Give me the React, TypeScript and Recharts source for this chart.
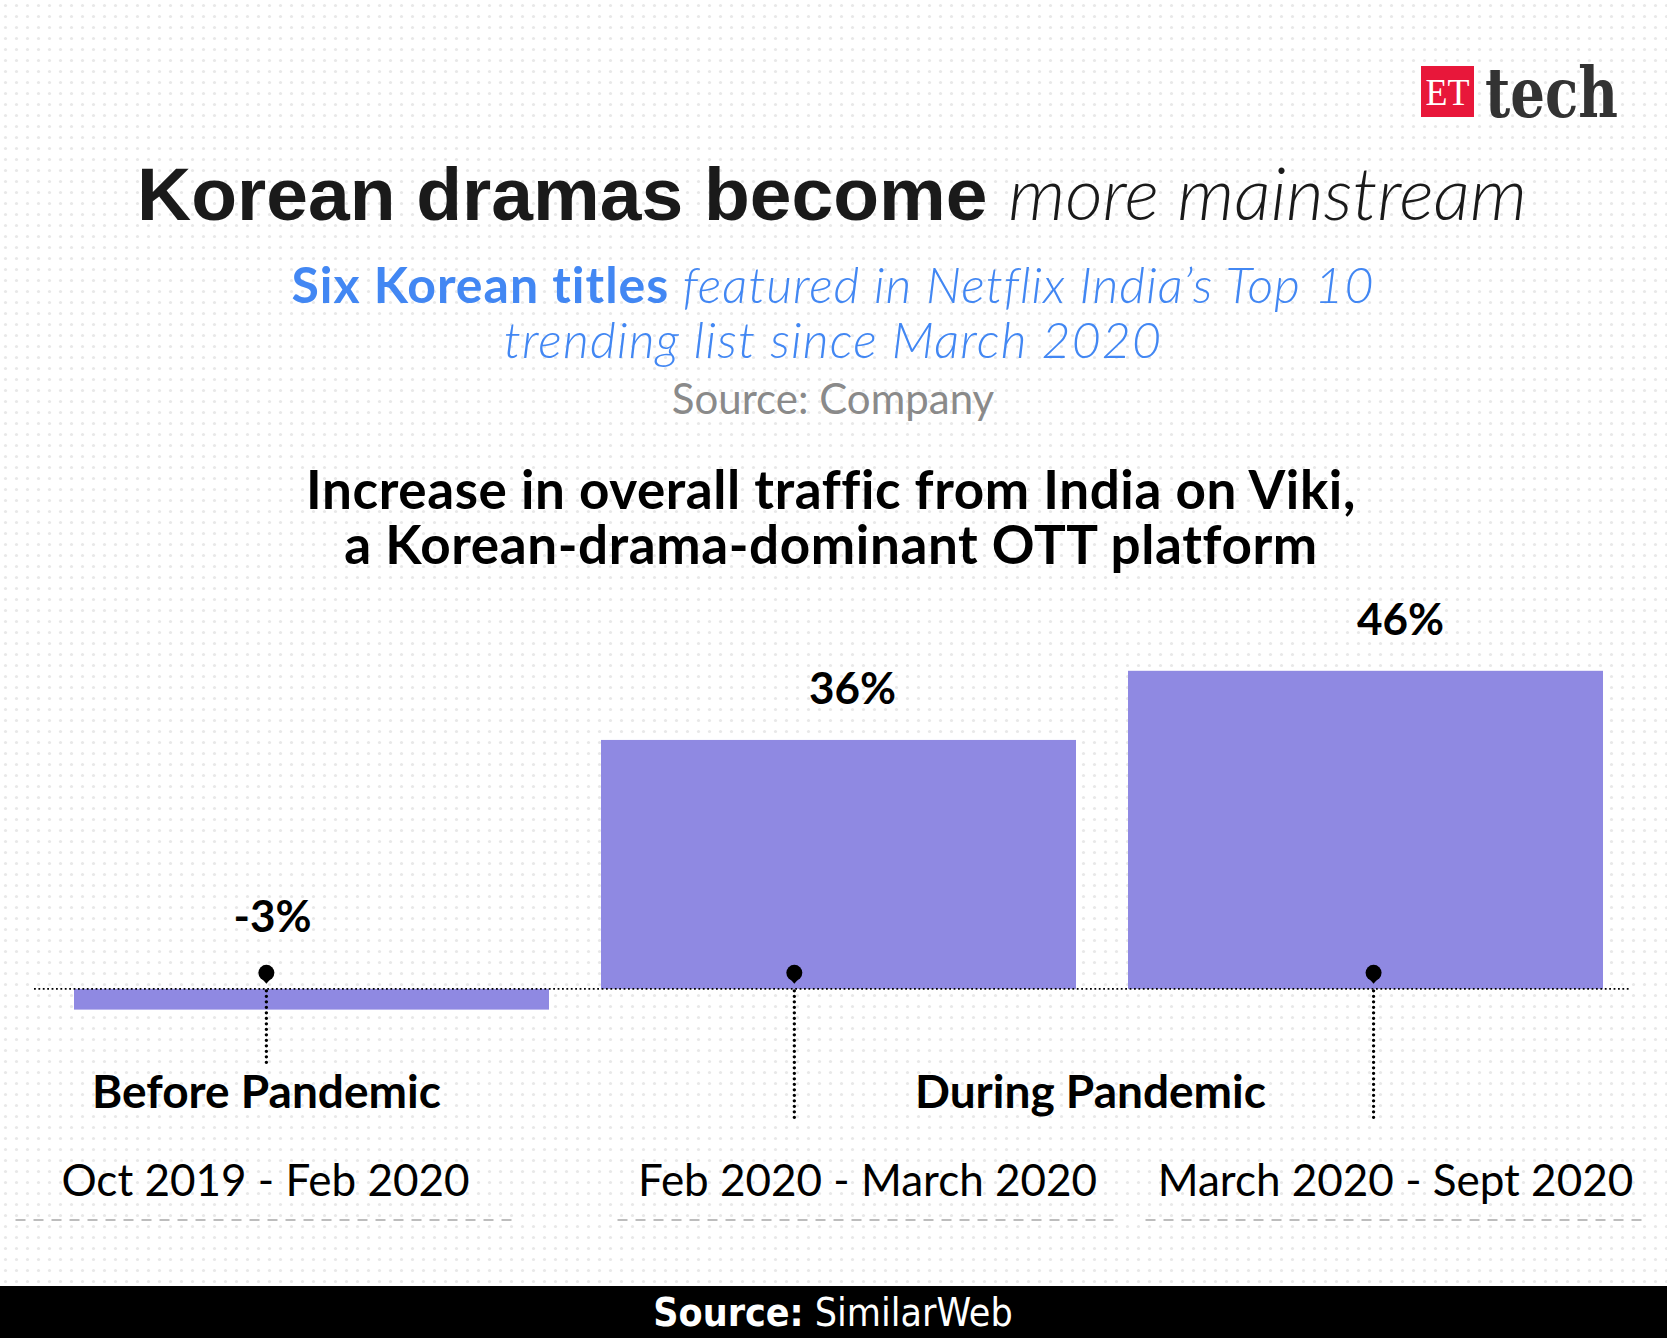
import React from 'react';
import { BarChart, Bar, XAxis, YAxis, ReferenceLine, LabelList } from 'recharts';

const PERIODS = ['Oct 2019 - Feb 2020', 'Feb 2020 - March 2020', 'March 2020 - Sept 2020'];
const TRAFFIC_CHANGE = [-3, 36, 46];
const PHASE_LABELS = ['Before Pandemic', 'During Pandemic'];

const chartData = PERIODS.map((period, i) => ({ period, change: TRAFFIC_CHANGE[i] }));

// small layout tweaks to follow the original artwork
const LABEL_DX = [-39, 14, 35];
const TICK_DX = [-46, 29, 30];
const MARKER_FRAC = [0.405, 0.407, 0.517];
const STEM_LEN = [74, 132, 132];
const PHASE_DX = [-45, 252];

const BAR_COLOR = '#8f89e2';
const SANS = 'Lato, "Open Sans", sans-serif';

function BarWithMarker(props: any) {
  const { x, y, width, height, index, value } = props;
  const top = Math.min(y, y + height);
  const h = Math.abs(height);
  const zeroY = value >= 0 ? top + h : top;
  const mx = x + width * MARKER_FRAC[index];
  const cy = zeroY - 16;
  return (
    <g>
      <rect x={x} y={top} width={width} height={h} fill={BAR_COLOR} />
      <line x1={mx} x2={mx} y1={zeroY + 2} y2={zeroY + STEM_LEN[index]} stroke="#000" strokeWidth={3.4} strokeDasharray="0 5.5" strokeLinecap="round" />
      <path d={`M${mx - 6} ${cy + 4} L${mx} ${cy + 11} L${mx + 6} ${cy + 4} Z`} fill="#000" />
      <circle cx={mx} cy={cy} r={8} fill="#000" />
    </g>
  );
}

function ValueLabel(props: any) {
  const { x, y, width, height, value, index } = props;
  const top = Math.min(y, y + height);
  const by = value >= 0 ? top - 36 : top - 57;
  return (
    <text x={x + width / 2 + LABEL_DX[index]} y={by} textAnchor="middle" fontFamily={SANS} fontWeight={700} fontSize={44} fill="#000">
      {value}%
    </text>
  );
}

function PeriodTick(props: any) {
  const { x, y, payload, index } = props;
  const cx = x + TICK_DX[index];
  return (
    <g>
      {index < PHASE_LABELS.length && (
        <text x={x + PHASE_DX[index]} y={y + 50} textAnchor="middle" fontFamily={SANS} fontWeight={700} fontSize={46} fill="#000">
          {PHASE_LABELS[index]}
        </text>
      )}
      <text x={cx} y={y + 138} textAnchor="middle" fontFamily={SANS} fontSize={44} fill="#000">
        {payload.value}
      </text>
      <line x1={cx - 250} x2={cx + 250} y1={y + 162} y2={y + 162} stroke="#bdbdbd" strokeWidth={2} strokeDasharray="10 8" />
    </g>
  );
}

function ZeroLine(props: any) {
  const { x1, x2, y1 } = props;
  return <line x1={x1 - 14} x2={x2 + 2} y1={y1} y2={y1} stroke="#000" strokeWidth={1.8} strokeDasharray="1.8 2.6" />;
}

export default function App() {
  return (
    <div style={{ position: 'absolute', top: 0, left: 0, width: 1667, height: 1338, overflow: 'hidden', background: '#fff' }}>
      <svg width={1667} height={1338} style={{ position: 'absolute', top: 0, left: 0 }}>
        <defs>
          <pattern id="dots" width={11} height={11} patternUnits="userSpaceOnUse">
            <circle cx={5.5} cy={5.5} r={1.6} fill="#e8e8e8" />
          </pattern>
        </defs>
        <rect x={0} y={0} width={1667} height={1286} fill="url(#dots)" />

        {/* logo */}
        <rect x={1421} y={66} width={53} height={51} fill="#e8173a" />
        <text x={1447.5} y={105} textAnchor="middle" fontFamily='"Liberation Serif", serif' fontSize={37} fill="#fff" textLength={44} lengthAdjust="spacingAndGlyphs">ET</text>
        <text x={1485} y={117} fontFamily='"DejaVu Serif", serif' fontWeight={700} fontSize={70} fill="#333" textLength={133} lengthAdjust="spacingAndGlyphs">tech</text>

        {/* titles */}
        <text x={832} y={220} textAnchor="middle" fill="#1a1a1a">
          <tspan fontFamily='"Liberation Sans", Arial, sans-serif' fontWeight={700} fontSize={75}>Korean dramas become </tspan>
          <tspan fontFamily={SANS} fontStyle="italic" fontWeight={300} fontSize={73}>more mainstream</tspan>
        </text>
        <text x={833} y={303} textAnchor="middle" fontSize={50} fill="#4287f3" fontFamily={SANS} letterSpacing={1}>
          <tspan fontWeight={700}>Six Korean titles </tspan>
          <tspan fontStyle="italic" fontWeight={300}>featured in Netflix India’s Top 10</tspan>
        </text>
        <text x={833} y={358} textAnchor="middle" fontSize={50} fill="#4287f3" fontFamily={SANS} fontStyle="italic" fontWeight={300} letterSpacing={1.2}>
          trending list since March 2020
        </text>
        <text x={833} y={414} textAnchor="middle" fontSize={42} fill="#8a8a8a" fontFamily={SANS}>
          Source: Company
        </text>
        <text x={831} y={509} textAnchor="middle" fontSize={53} fill="#000" fontFamily={SANS} fontWeight={700} letterSpacing={0.6}>
          Increase in overall traffic from India on Viki,
        </text>
        <text x={831} y={564} textAnchor="middle" fontSize={53} fill="#000" fontFamily={SANS} fontWeight={700} letterSpacing={0.6}>
          a Korean-drama-dominant OTT platform
        </text>

        {/* footer */}
        <rect x={0} y={1286} width={1667} height={52} fill="#000" />
        <text x={833} y={1326} textAnchor="middle" fontSize={39} fill="#fff" fontFamily='"DejaVu Sans Condensed", "DejaVu Sans", sans-serif'>
          <tspan fontWeight={700}>Source:</tspan>
          <tspan> SimilarWeb</tspan>
        </text>
      </svg>

      <div style={{ position: 'absolute', top: 0, left: 0 }}>
        <BarChart width={1667} height={1338} data={chartData} margin={{ top: 574, right: 38, bottom: 250, left: 48 }} barCategoryGap={26}>
          <XAxis dataKey="period" axisLine={false} tickLine={false} tickSize={0} tickMargin={0} height={30} interval={0} tick={<PeriodTick />} />
          <YAxis hide domain={[-10, 60]} />
          <Bar dataKey="change" shape={<BarWithMarker />} isAnimationActive={false}>
            <LabelList dataKey="change" content={<ValueLabel />} />
          </Bar>
          <ReferenceLine y={0} shape={<ZeroLine />} />
        </BarChart>
      </div>
    </div>
  );
}
